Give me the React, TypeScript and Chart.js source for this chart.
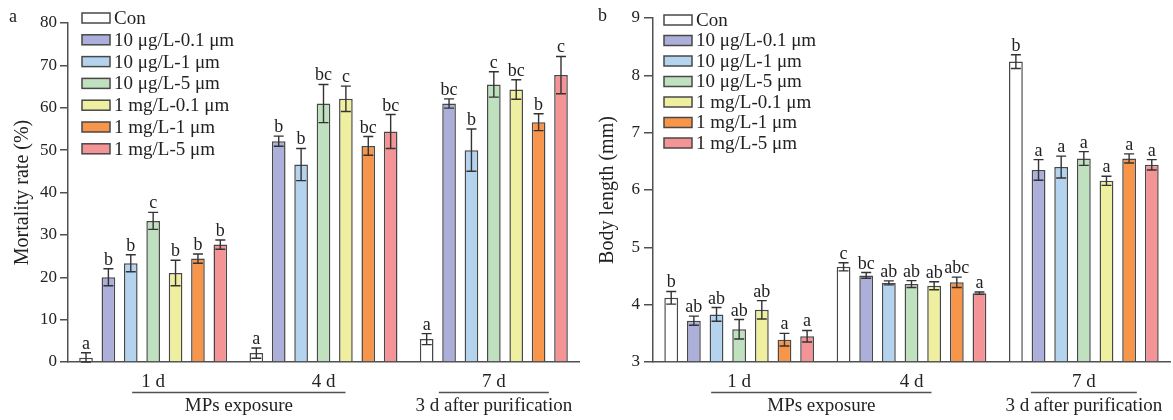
import React, { useEffect, useRef } from 'react';
import { Chart, registerables } from 'chart.js';

Chart.register(...registerables);

// ---------- data ----------
const groupLabels = ['1 d', '4 d', '7 d'];
const seriesNames = [
  'Con',
  '10 μg/L-0.1 μm',
  '10 μg/L-1 μm',
  '10 μg/L-5 μm',
  '1 mg/L-0.1 μm',
  '1 mg/L-1 μm',
  '1 mg/L-5 μm',
];
const seriesColors = ['#ffffff', '#abafd9', '#b4d3ef', '#bfe1bf', '#eff09f', '#f7954a', '#f49497'];
const periodLabels = ['MPs exposure', '3 d after purification'];

// Panel a: mortality rate (%)
const mortCon = [1.0, 2.1, 5.4];
const mort10ug01 = [20.0, 52.1, 61.0];
const mort10ug1 = [23.3, 46.6, 50.0];
const mort10ug5 = [33.3, 61.0, 65.5];
const mort1mg01 = [21.0, 62.1, 64.3];
const mort1mg1 = [24.4, 51.0, 56.6];
const mort1mg5 = [27.7, 54.4, 67.7];

const mortErrCon = [1.2, 1.2, 1.3];
const mortErr10ug01 = [2.0, 1.2, 1.1];
const mortErr10ug1 = [2.0, 3.8, 5.0];
const mortErr10ug5 = [2.0, 4.5, 3.0];
const mortErr1mg01 = [3.0, 3.0, 2.3];
const mortErr1mg1 = [1.1, 2.2, 2.0];
const mortErr1mg5 = [1.1, 4.0, 4.4];

const mortLetCon = ['a', 'a', 'a'];
const mortLet10ug01 = ['b', 'b', 'bc'];
const mortLet10ug1 = ['b', 'b', 'b'];
const mortLet10ug5 = ['c', 'bc', 'c'];
const mortLet1mg01 = ['b', 'c', 'bc'];
const mortLet1mg1 = ['b', 'bc', 'b'];
const mortLet1mg5 = ['b', 'bc', 'c'];

const mortTicks = { min: 0, max: 80, step: 10 };

// Panel b: body length (mm)
const lenCon = [4.12, 4.66, 8.24];
const len10ug01 = [3.72, 4.51, 6.35];
const len10ug1 = [3.83, 4.38, 6.4];
const len10ug5 = [3.57, 4.36, 6.55];
const len1mg01 = [3.91, 4.33, 6.16];
const len1mg1 = [3.39, 4.39, 6.55];
const len1mg5 = [3.45, 4.2, 6.44];

const lenErrCon = [0.11, 0.07, 0.12];
const lenErr10ug01 = [0.08, 0.05, 0.18];
const lenErr10ug1 = [0.12, 0.035, 0.19];
const lenErr10ug5 = [0.17, 0.06, 0.12];
const lenErr1mg01 = [0.16, 0.07, 0.08];
const lenErr1mg1 = [0.11, 0.09, 0.08];
const lenErr1mg5 = [0.1, 0.02, 0.09];

const lenLetCon = ['b', 'c', 'b'];
const lenLet10ug01 = ['ab', 'bc', 'a'];
const lenLet10ug1 = ['ab', 'ab', 'a'];
const lenLet10ug5 = ['ab', 'ab', 'a'];
const lenLet1mg01 = ['ab', 'ab', 'a'];
const lenLet1mg1 = ['a', 'abc', 'a'];
const lenLet1mg5 = ['a', 'a', 'a'];

const lenTicks = { min: 3, max: 9, step: 1 };

// ---------- drawing ----------
const FONT = 'Liberation Serif';
const INK = '#222222';
const AXIS = '#505050';
const H = 420;

type Panel = {
  values: number[][];
  errors: number[][];
  letters: string[][];
  ticks: { min: number; max: number; step: number };
  yTitle: string;
  tag: string;
  width: number;
  areaLeft: number;
  areaRight: number;
  areaTop: number;
  areaBottom: number;
  titlePad: number;
  tickLength: number;
  tickPad: number;
  legendX: number;
  legendY: number;
  legendGap: number;
  tagX: number;
  tagY: number;
  spanL: number;
  spanR: number;
  purHalf: number;
};

function buildChart(canvas: HTMLCanvasElement, p: Panel) {
  const decor = {
    id: 'decor',
    afterDatasetsDraw(chart: any) {
      const ctx = chart.ctx;
      const ys = chart.scales.y;
      ctx.save();
      ctx.strokeStyle = '#333333';
      ctx.lineWidth = 1.4;
      ctx.fillStyle = INK;
      ctx.font = `18px "${FONT}"`;
      ctx.textAlign = 'center';
      ctx.textBaseline = 'alphabetic';
      p.values.forEach((vals, i) => {
        const meta = chart.getDatasetMeta(i);
        vals.forEach((v, j) => {
          const bar = meta.data[j];
          const x = bar.x;
          const e = p.errors[i][j];
          const yt = ys.getPixelForValue(v + e);
          const yb = ys.getPixelForValue(Math.max(v - e, p.ticks.min));
          ctx.beginPath();
          ctx.moveTo(x, yt);
          ctx.lineTo(x, yb);
          ctx.moveTo(x - 5, yt);
          ctx.lineTo(x + 5, yt);
          ctx.moveTo(x - 5, yb);
          ctx.lineTo(x + 5, yb);
          ctx.stroke();
          ctx.fillText(p.letters[i][j], x, yt - 4);
        });
      });
      ctx.restore();
    },
    afterDraw(chart: any) {
      const ctx = chart.ctx;
      const xs = chart.scales.x;
      ctx.save();
      // panel tag
      ctx.fillStyle = INK;
      ctx.font = `18px "${FONT}"`;
      ctx.textAlign = 'left';
      ctx.textBaseline = 'middle';
      ctx.fillText(p.tag, p.tagX, p.tagY);
      // legend
      ctx.font = `19px "${FONT}"`;
      seriesNames.forEach((name, i) => {
        const cy = p.legendY + i * p.legendGap;
        ctx.fillStyle = seriesColors[i];
        ctx.fillRect(p.legendX, cy - 5, 28, 10);
        ctx.strokeStyle = '#484848';
        ctx.lineWidth = 1.5;
        ctx.strokeRect(p.legendX, cy - 5, 28, 10);
        ctx.fillStyle = INK;
        ctx.fillText(name, p.legendX + 32, cy + 1);
      });
      // period labels
      const c0 = xs.getPixelForTick(0);
      const c1 = xs.getPixelForTick(1);
      const c2 = xs.getPixelForTick(2);
      ctx.strokeStyle = AXIS;
      ctx.lineWidth = 1.5;
      ctx.beginPath();
      ctx.moveTo(c0 - p.spanL, 392.5);
      ctx.lineTo(c1 + p.spanR, 392.5);
      ctx.moveTo(c2 - p.purHalf, 392.5);
      ctx.lineTo(c2 + p.purHalf, 392.5);
      ctx.stroke();
      ctx.fillStyle = INK;
      ctx.font = `19px "${FONT}"`;
      ctx.textAlign = 'center';
      ctx.fillText(periodLabels[0], (c0 - p.spanL + c1 + p.spanR) / 2, 406);
      ctx.fillText(periodLabels[1], c2, 406);
      ctx.restore();
    },
  };

  return new Chart(canvas, {
    type: 'bar',
    data: {
      labels: groupLabels,
      datasets: seriesNames.map((name, i) => ({
        label: name,
        data: p.values[i],
        backgroundColor: seriesColors[i],
        borderColor: '#484848',
        borderWidth: 1.5,
        categoryPercentage: 0.92,
        barPercentage: 0.61,
        base: p.ticks.min,
      })),
    },
    options: {
      responsive: false,
      animation: false,
      devicePixelRatio: 1,
      layout: { padding: { left: 0, right: p.width - p.areaRight, top: p.areaTop, bottom: 0 } },
      plugins: { legend: { display: false }, tooltip: { enabled: false } },
      scales: {
        x: {
          type: 'category',
          offset: true,
          grid: { display: false, drawTicks: false },
          border: { display: true, color: AXIS, width: 1.5 },
          ticks: { color: INK, font: { family: FONT, size: 19 }, padding: 9, maxRotation: 0 },
          afterFit: (s: any) => {
            s.height = H - p.areaBottom;
            s.paddingLeft = 0;
            s.paddingRight = 0;
          },
        },
        y: {
          min: p.ticks.min,
          max: p.ticks.max,
          ticks: { stepSize: p.ticks.step, color: INK, font: { family: FONT, size: 17 }, padding: p.tickPad },
          grid: {
            display: true,
            drawOnChartArea: false,
            drawTicks: true,
            tickLength: p.tickLength,
            color: AXIS,
            lineWidth: 1.5,
          },
          border: { display: true, color: AXIS, width: 1.5 },
          title: {
            display: true,
            text: p.yTitle,
            color: INK,
            font: { family: FONT, size: 20 },
            padding: { top: p.titlePad, bottom: 0 },
          },
          afterFit: (s: any) => {
            s.width = p.areaLeft;
          },
        },
      },
    } as any,
    plugins: [decor],
  });
}

const panelA: Panel = {
  values: [mortCon, mort10ug01, mort10ug1, mort10ug5, mort1mg01, mort1mg1, mort1mg5],
  errors: [mortErrCon, mortErr10ug01, mortErr10ug1, mortErr10ug5, mortErr1mg01, mortErr1mg1, mortErr1mg5],
  letters: [mortLetCon, mortLet10ug01, mortLet10ug1, mortLet10ug5, mortLet1mg01, mortLet1mg1, mortLet1mg5],
  ticks: mortTicks,
  yTitle: 'Mortality rate (%)',
  tag: 'a',
  width: 592,
  areaLeft: 68,
  areaRight: 579,
  areaTop: 23,
  areaBottom: 362,
  titlePad: 11,
  tickLength: 8,
  tickPad: 3,
  legendX: 82,
  legendY: 18,
  legendGap: 21.8,
  tagX: 9,
  tagY: 17,
  spanL: 21,
  spanR: 22,
  purHalf: 55,
};

const panelB: Panel = {
  values: [lenCon, len10ug01, len10ug1, len10ug5, len1mg01, len1mg1, len1mg5],
  errors: [lenErrCon, lenErr10ug01, lenErr10ug1, lenErr10ug5, lenErr1mg01, lenErr1mg1, lenErr1mg5],
  letters: [lenLetCon, lenLet10ug01, lenLet10ug1, lenLet10ug5, lenLet1mg01, lenLet1mg1, lenLet1mg5],
  ticks: lenTicks,
  yTitle: 'Body length (mm)',
  tag: 'b',
  width: 581,
  areaLeft: 61,
  areaRight: 578,
  areaTop: 18,
  areaBottom: 362,
  titlePad: 4,
  tickLength: 9,
  tickPad: 4,
  legendX: 72,
  legendY: 20,
  legendGap: 20.5,
  tagX: 6,
  tagY: 16,
  spanL: 28,
  spanR: 20,
  purHalf: 53,
};

function PanelChart({ panel }: { panel: Panel }) {
  const ref = useRef<HTMLCanvasElement | null>(null);
  useEffect(() => {
    if (!ref.current) return;
    const chart = buildChart(ref.current, panel);
    return () => chart.destroy();
  }, [panel]);
  return (
    <canvas
      ref={ref}
      width={panel.width}
      height={H}
      style={{ display: 'block', width: panel.width, height: H }}
    />
  );
}

export default function App() {
  return (
    <div
      style={{
        position: 'fixed',
        left: 0,
        top: 0,
        width: 1173,
        height: H,
        display: 'flex',
        background: '#ffffff',
      }}
    >
      <PanelChart panel={panelA} />
      <PanelChart panel={panelB} />
    </div>
  );
}
